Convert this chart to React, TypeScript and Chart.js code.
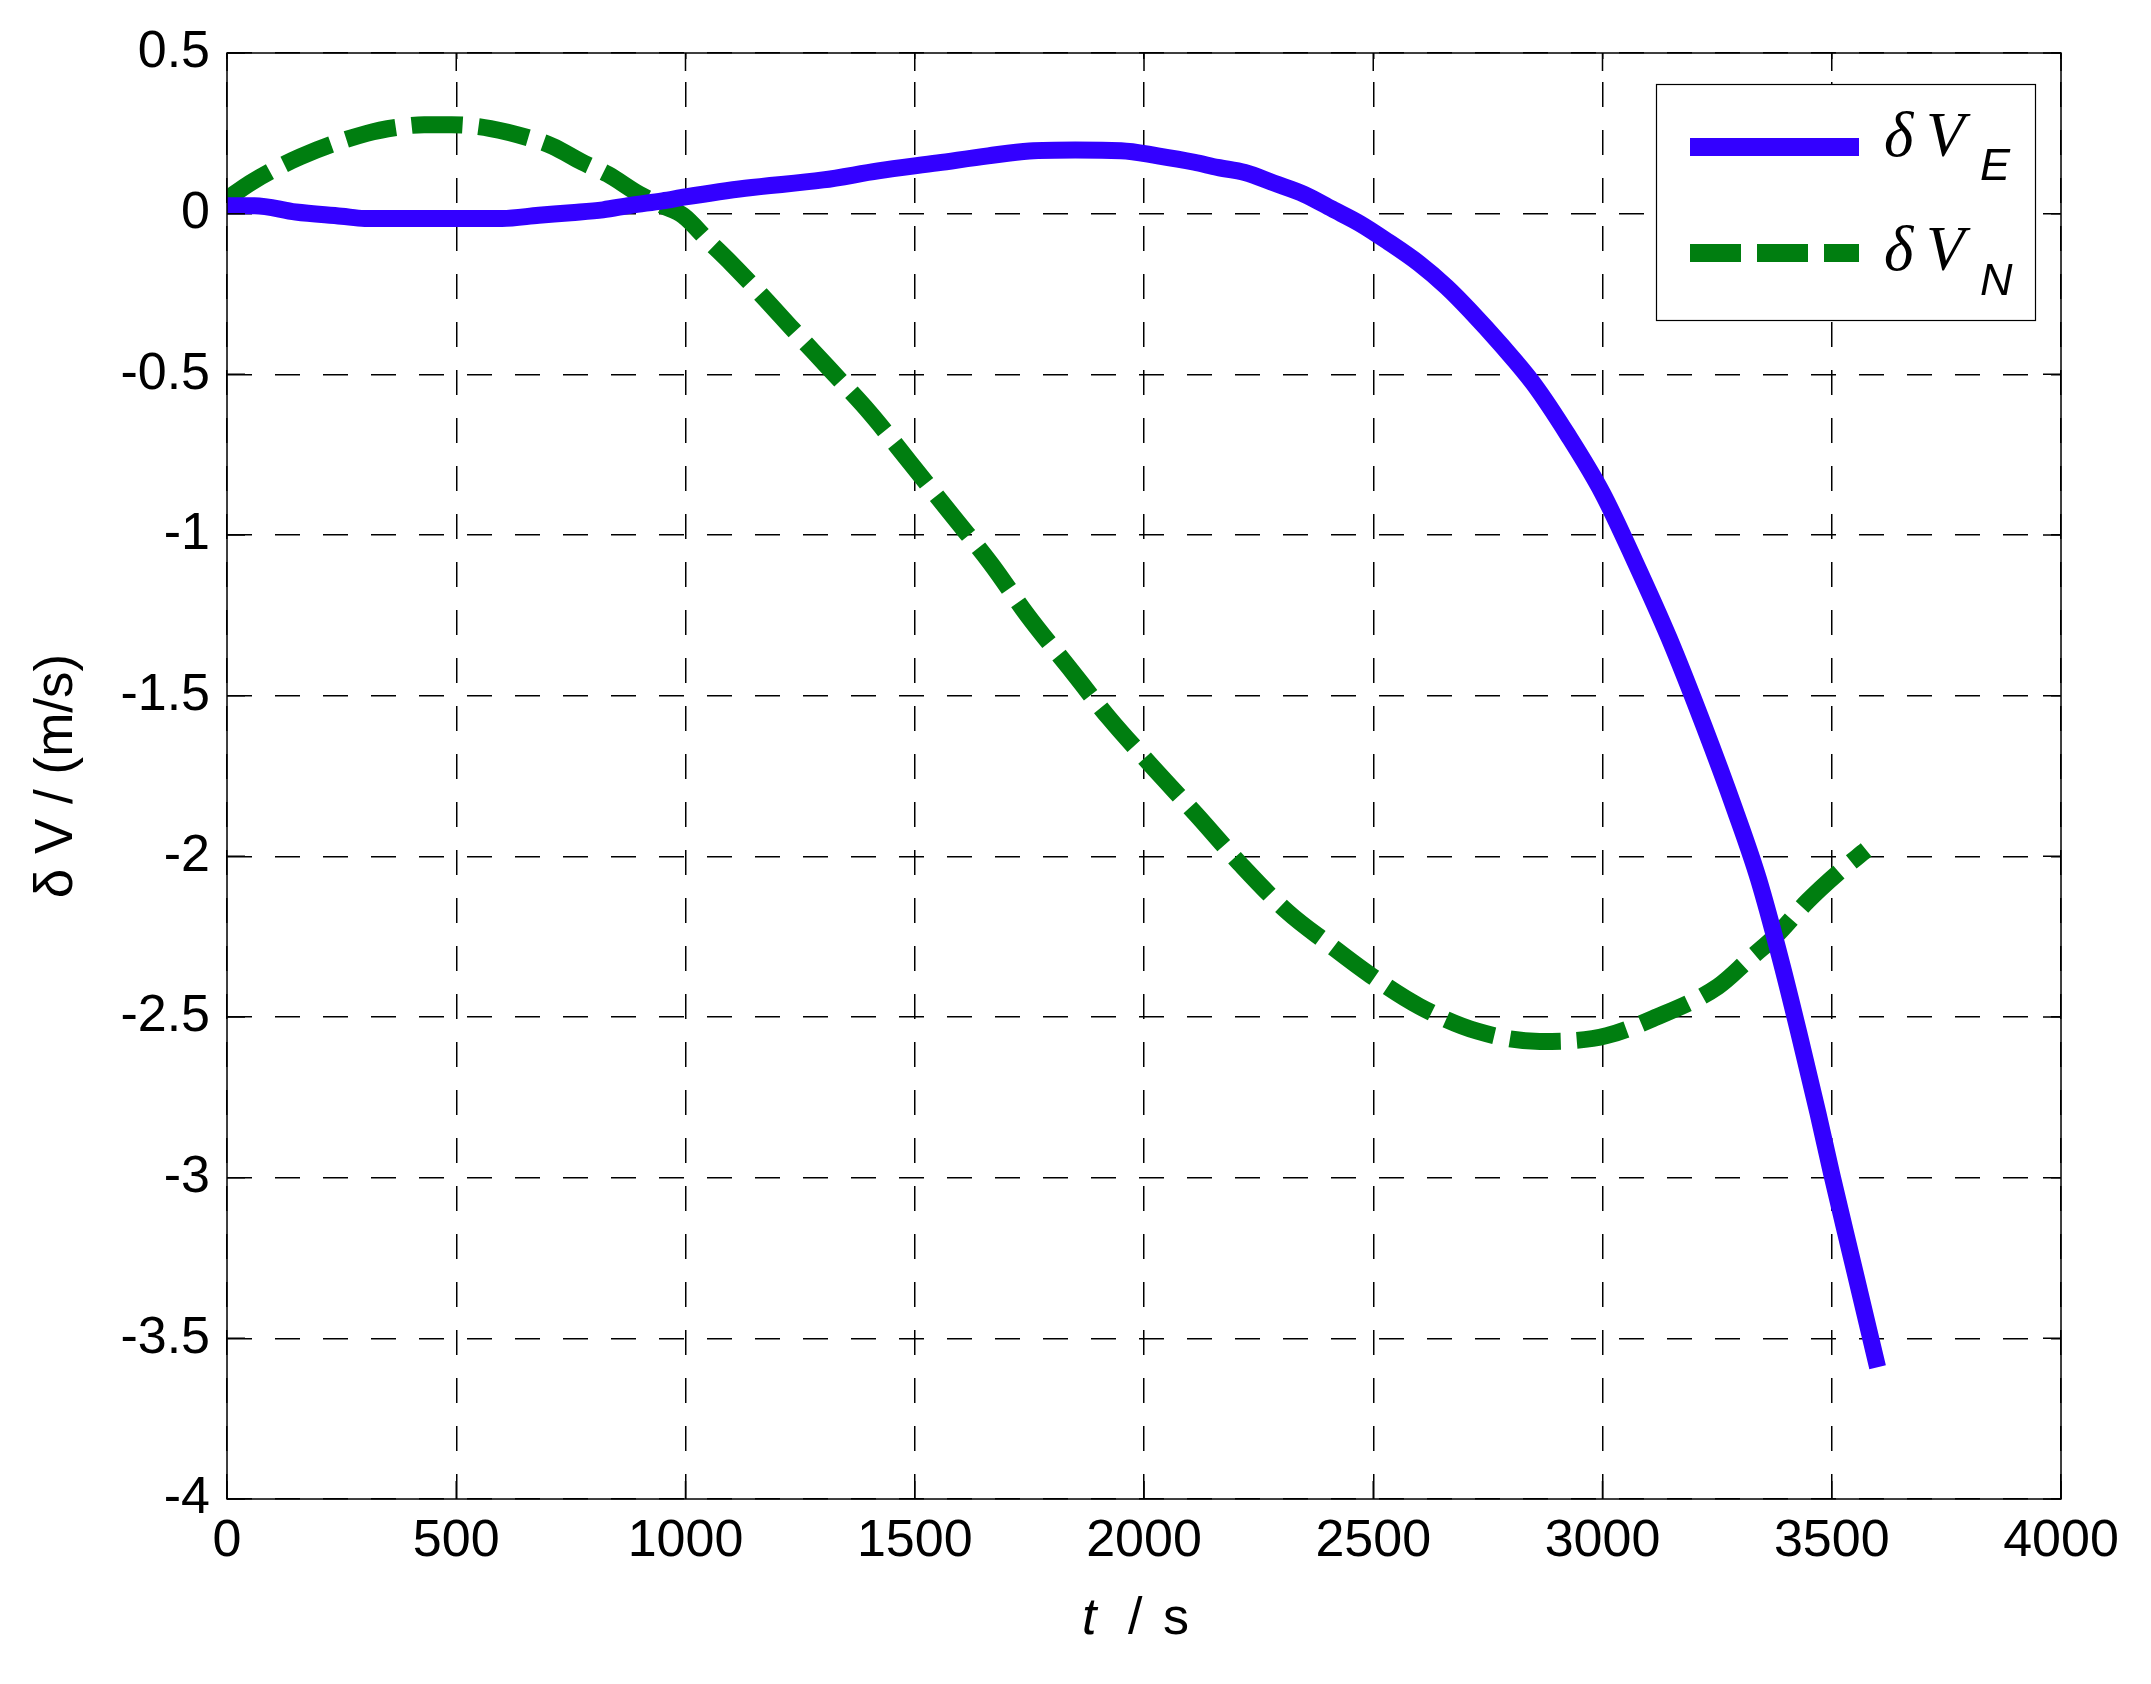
import React, { useEffect, useRef } from "react";
import { Chart, registerables } from "chart.js";

Chart.register(...registerables);

// δV_E (east velocity error) samples: time [s] and value [m/s]
const timeE = [0, 60, 150, 250, 300, 450, 600, 680, 750, 820, 880, 950, 1000, 1130, 1300, 1420, 1550, 1660, 1750, 1850, 1950, 2030, 2110, 2160, 2220, 2284, 2350, 2410, 2470, 2530, 2600, 2660, 2710, 2780, 2850, 2925, 3000, 3070, 3145, 3220, 3290, 3340, 3390, 3430, 3470, 3500, 3545, 3580, 3600];
const valueE = [0.025, 0.025, 0.005, -0.008, -0.015, -0.015, -0.015, -0.005, 0.003, 0.012, 0.026, 0.04, 0.052, 0.079, 0.105, 0.133, 0.158, 0.18, 0.195, 0.198, 0.196, 0.18, 0.16, 0.144, 0.128, 0.095, 0.06, 0.015, -0.03, -0.085, -0.155, -0.228, -0.3, -0.41, -0.53, -0.69, -0.87, -1.08, -1.32, -1.59, -1.86, -2.07, -2.33, -2.56, -2.8, -2.99, -3.26, -3.47, -3.59];

// δV_N (north velocity error) samples
const timeN = [0, 50, 160, 305, 377, 430, 490, 575, 660, 710, 775, 830, 900, 950, 995, 1050, 1100, 1170, 1234, 1312, 1401, 1490, 1579, 1668, 1746, 1835, 1924, 2013, 2114, 2214, 2314, 2400, 2494, 2601, 2727, 2863, 2931, 3009, 3110, 3252, 3320, 3379, 3447, 3515, 3575];
const valueN = [0.045, 0.095, 0.177, 0.25, 0.27, 0.277, 0.277, 0.265, 0.235, 0.21, 0.16, 0.123, 0.06, 0.025, -0.006, -0.085, -0.155, -0.26, -0.36, -0.48, -0.618, -0.775, -0.934, -1.093, -1.25, -1.41, -1.57, -1.713, -1.87, -2.03, -2.174, -2.27, -2.37, -2.467, -2.544, -2.576, -2.574, -2.558, -2.505, -2.405, -2.32, -2.246, -2.14, -2.05, -1.98];

const xTicks = [0, 500, 1000, 1500, 2000, 2500, 3000, 3500, 4000];
const yTicks = [0.5, 0, -0.5, -1, -1.5, -2, -2.5, -3, -3.5, -4];

const seriesNames = ["δVE", "δVN"];
const legendSubs = ["E", "N"];
const yTitle = "δ V / (m/s)";

const SANS = "'Liberation Sans', Arial, sans-serif";
const SERIF = "'Liberation Serif', 'Times New Roman', serif";

const framePlugin = {
  id: "matlabFrame",
  afterDatasetsDraw(chart: any) {
    const { ctx, chartArea } = chart;
    const { left, right, top, bottom } = chartArea;
    const xs = chart.scales.x;
    const ys = chart.scales.y;
    ctx.save();
    ctx.setLineDash([]);
    ctx.strokeStyle = "#000";
    ctx.lineWidth = 1.5;
    ctx.strokeRect(left, top, right - left, bottom - top);
    const tl = 18;
    ctx.beginPath();
    for (const v of xTicks) {
      const px = xs.getPixelForValue(v);
      ctx.moveTo(px, bottom);
      ctx.lineTo(px, bottom - tl);
      ctx.moveTo(px, top);
      ctx.lineTo(px, top + tl);
    }
    for (const v of yTicks) {
      const py = ys.getPixelForValue(v);
      ctx.moveTo(left, py);
      ctx.lineTo(left + tl, py);
      ctx.moveTo(right, py);
      ctx.lineTo(right - tl, py);
    }
    ctx.stroke();
    ctx.restore();
  },
};

const decorPlugin = {
  id: "matlabDecor",
  afterDraw(chart: any) {
    const { ctx, chartArea } = chart;
    const { left, right, top, bottom } = chartArea;
    ctx.save();
    // x-axis title: italic t, upright "/ s"
    const cx = (left + right) / 2;
    const by = bottom + 135;
    ctx.fillStyle = "#000";
    ctx.textAlign = "left";
    ctx.textBaseline = "alphabetic";
    ctx.font = `italic 52px ${SANS}`;
    ctx.fillText("t", cx - 62, by);
    ctx.font = `52px ${SANS}`;
    ctx.fillText("/", cx - 16, by);
    ctx.fillText("s", cx + 19, by);

    // legend
    const bx = right - 405;
    const bty = top + 31;
    const bw = 379;
    const bh = 236;
    ctx.fillStyle = "#fff";
    ctx.fillRect(bx, bty, bw, bh);
    ctx.strokeStyle = "#000";
    ctx.lineWidth = 1.2;
    ctx.strokeRect(bx + 0.5, bty + 0.5, bw, bh);
    const rows = [
      { line: 63, base: 72, sub: 96 },
      { line: 169, base: 186, sub: 211 },
    ];
    chart.data.datasets.forEach((ds: any, i: number) => {
      const r = rows[i];
      ctx.strokeStyle = ds.borderColor;
      ctx.lineWidth = 18;
      ctx.lineCap = "butt";
      ctx.setLineDash(ds.borderDash || []);
      ctx.lineDashOffset = 0;
      ctx.beginPath();
      ctx.moveTo(bx + 34, bty + r.line);
      ctx.lineTo(bx + 203, bty + r.line);
      ctx.stroke();
      ctx.setLineDash([]);
      ctx.fillStyle = "#000";
      ctx.font = `italic 63px ${SERIF}`;
      ctx.fillText("δ", bx + 228, bty + r.base);
      ctx.fillText("V", bx + 270, bty + r.base);
      ctx.font = `italic 45px ${SANS}`;
      ctx.fillText(legendSubs[i], bx + 324, bty + r.sub);
    });
    ctx.restore();
  },
};

export default function App() {
  const ref = useRef<HTMLCanvasElement | null>(null);

  useEffect(() => {
    const canvas = ref.current;
    if (!canvas) return;
    const chart = new Chart(canvas, {
      type: "line",
      data: {
        datasets: [
          {
            label: seriesNames[0],
            data: timeE.map((t, i) => ({ x: t, y: valueE[i] })),
            borderColor: "#3300FF",
            borderWidth: 17,
            pointRadius: 0,
            cubicInterpolationMode: "monotone",
            borderCapStyle: "butt",
            borderJoinStyle: "round",
            fill: false,
          },
          {
            label: seriesNames[1],
            data: timeN.map((t, i) => ({ x: t, y: valueN[i] })),
            borderColor: "#007E10",
            borderWidth: 17,
            borderDash: [51, 16],
            pointRadius: 0,
            cubicInterpolationMode: "monotone",
            borderCapStyle: "butt",
            borderJoinStyle: "round",
            fill: false,
          },
        ],
      },
      options: {
        animation: false,
        responsive: false,
        devicePixelRatio: 1,
        layout: { padding: { top: 53, right: 90, left: 0, bottom: 0 } },
        plugins: {
          legend: { display: false },
          tooltip: { enabled: false },
        },
        scales: {
          x: {
            type: "linear",
            min: 0,
            max: 4000,
            afterBuildTicks: (s: any) => {
              s.ticks = xTicks.map((v) => ({ value: v }));
            },
            afterFit: (s: any) => {
              s.height = 185;
            },
            ticks: {
              autoSkip: false,
              maxRotation: 0,
              padding: 11,
              color: "#000",
              font: { family: SANS, size: 52 },
              callback: (v: any) => String(v),
            },
            grid: { color: "#000", lineWidth: 1.5, drawTicks: false },
            border: { display: false, dash: [25, 23], dashOffset: 19 },
          },
          y: {
            type: "linear",
            min: -4,
            max: 0.5,
            afterBuildTicks: (s: any) => {
              s.ticks = yTicks.map((v) => ({ value: v }));
            },
            afterFit: (s: any) => {
              s.width = 227;
            },
            ticks: {
              autoSkip: false,
              padding: 17,
              color: "#000",
              font: { family: SANS, size: 52 },
              callback: (v: any) => String(v),
            },
            grid: { color: "#000", lineWidth: 1.5, drawTicks: false },
            border: { display: false, dash: [25, 23], dashOffset: 0 },
            title: {
              display: true,
              text: yTitle,
              color: "#000",
              font: { family: SANS, size: 53 },
              padding: { top: 26, bottom: 0 },
            },
          },
        },
      },
      plugins: [framePlugin, decorPlugin],
    } as any);
    return () => chart.destroy();
  }, []);

  return (
    <div style={{ position: "absolute", left: 0, top: 0, width: 2151, height: 1684, background: "#fff" }}>
      <canvas ref={ref} width={2151} height={1684} style={{ display: "block" }} />
    </div>
  );
}
